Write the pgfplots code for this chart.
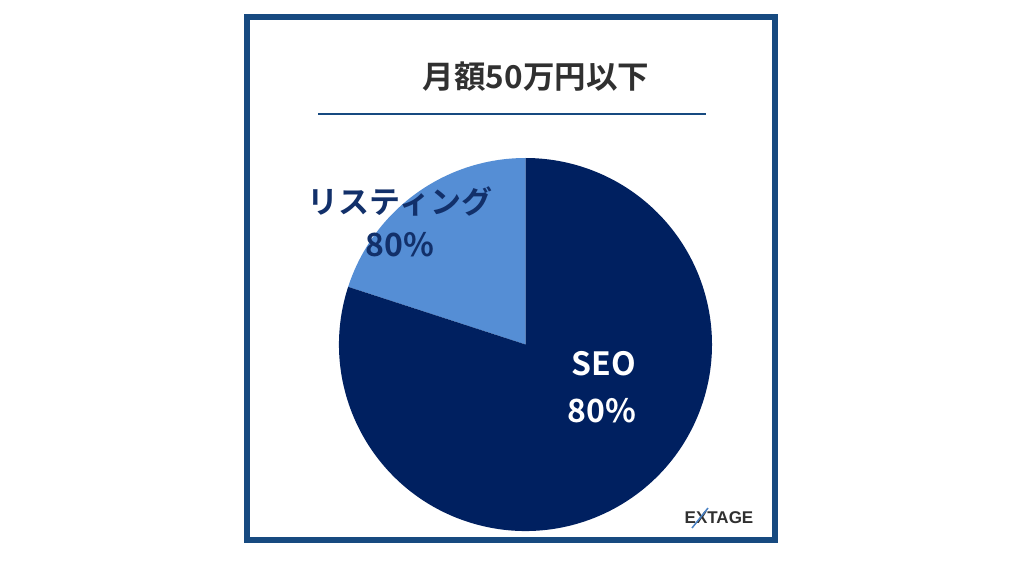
\documentclass[border=0pt]{standalone}
\usepackage{pgfplots}
\usepackage{pgfplotstable}
\pgfplotsset{compat=1.18}
\usepackage{fontspec}
\setmainfont{Liberation Sans}
\newfontfamily\jp{Noto Sans CJK JP}[BoldFont={Noto Sans CJK JP Bold}]

\definecolor{frameblue}{HTML}{174A80}
\definecolor{seonavy}{HTML}{002060}
\definecolor{listblue}{HTML}{558ED5}
\definecolor{titlegray}{HTML}{303030}
\definecolor{labelnavy}{HTML}{12306A}

% share of each channel, in percent
\pgfplotstableread{
channel value
SEO 80
Listing 20
}\piedata

\begin{document}
\begin{tikzpicture}
\pgfplotstablegetelem{0}{value}\of\piedata \let\seoval\pgfplotsretval
\pgfplotstablegetelem{1}{value}\of\piedata \let\listval\pgfplotsretval
\pgfmathsetmacro{\aA}{90}
\pgfmathsetmacro{\aB}{90+3.6*\listval}
\pgfmathsetmacro{\aC}{\aB+3.6*\seoval}
\begin{axis}[
    scale only axis,
    width=1024pt, height=576pt,
    xmin=0, xmax=1024, ymin=0, ymax=576,
    hide axis, clip=false,
]
  \path[fill=white] (axis cs:0,0) rectangle (axis cs:1024,576);
  % frame
  \draw[frameblue, line width=6pt] (axis cs:247,559) rectangle (axis cs:775,36);
  % title and rule
  \node[text=titlegray, font=\jp\bfseries\fontsize{31.5}{38}\selectfont]
    at (axis cs:536,499) {月額50万円以下};
  \draw[frameblue, line width=2pt] (axis cs:318,462) -- (axis cs:706,462);
  % pie slices
  \fill[listblue] (axis cs:525.5,231.5) -- ++(\aA:186.5pt)
    arc[start angle=\aA, end angle=\aB, radius=186.5pt] -- cycle;
  \fill[seonavy] (axis cs:525.5,231.5) -- ++(\aB:186.5pt)
    arc[start angle=\aB, end angle=\aC, radius=186.5pt] -- cycle;
  % labels
  \node[text=labelnavy, font=\jp\bfseries\fontsize{31}{36}\selectfont]
    at (axis cs:400,375) {リスティング};
  \node[text=labelnavy, font=\jp\bfseries\fontsize{32}{36}\selectfont]
    at (axis cs:400,331) {80\%};
  \node[text=white, font=\jp\bfseries\fontsize{32}{36}\selectfont]
    at (axis cs:604,212) {SEO};
  \node[text=white, font=\jp\bfseries\fontsize{32}{36}\selectfont]
    at (axis cs:602,165) {80\%};
  % logo
  \node[text=titlegray, font=\bfseries\fontsize{17}{20}\selectfont]
    at (axis cs:719,58) {EXTAGE};
  \draw[listblue!80!frameblue, line width=1.5pt] (axis cs:692,48) -- (axis cs:708,68);
\end{axis}
\end{tikzpicture}
\end{document}
